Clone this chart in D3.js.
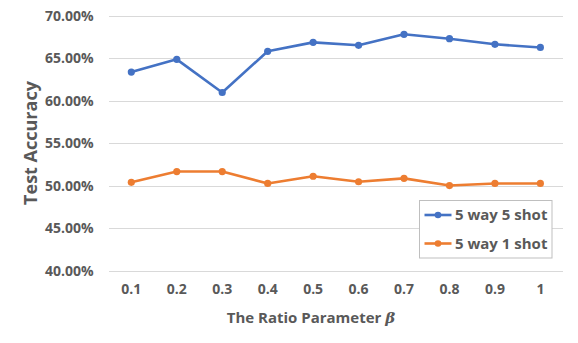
<!DOCTYPE html>
<html><head><meta charset="utf-8">
<script src="https://cdn.jsdelivr.net/npm/d3@7"></script>
<style>body{margin:0;background:#fff}svg text{font-family:"Open Sans","Noto Sans",sans-serif;font-weight:700;fill:#595959}</style>
</head><body><svg id="c" width="578" height="343"></svg>
<script>
const categories = ["0.1","0.2","0.3","0.4","0.5","0.6","0.7","0.8","0.9","1"];
const series5shot = [63.4,64.9,61.0,65.85,66.9,66.55,67.85,67.33,66.67,66.3];
const series1shot = [50.43,51.7,51.7,50.3,51.15,50.5,50.9,50.05,50.3,50.3];
const yTicks = [40,45,50,55,60,65,70];
const seriesNames = ["5 way 5 shot","5 way 1 shot"];
const colors = ["#4472C4","#ED7D31"];

const svg = d3.select("#c");
const x = d3.scaleBand().domain(categories).range([108.6,563.1]);
const y = d3.scaleLinear().domain([40,70]).range([271,16]);

// gridlines
svg.append("g").selectAll("line").data(yTicks).join("line")
  .attr("x1",108.6).attr("x2",563.1)
  .attr("y1",d=>y(d)).attr("y2",d=>y(d))
  .attr("stroke","#d9d9d9").attr("stroke-width",1).attr("shape-rendering","crispEdges");

// y axis labels
const yAxis = d3.axisLeft(y).tickValues(yTicks).tickSize(0).tickPadding(0).tickFormat(d=>d.toFixed(2)+"%");
const ya = svg.append("g").attr("transform","translate(93.5,0)").call(yAxis);
ya.select(".domain").remove();
ya.selectAll("text").attr("font-size",14).attr("font-family",null);

// x axis labels
const xAxis = d3.axisBottom(x).tickSize(0).tickPadding(0);
const xa = svg.append("g").attr("transform","translate(0,284)").call(xAxis);
xa.select(".domain").remove();
xa.selectAll("text").attr("font-size",14).attr("font-family",null);

// axis titles
const xt = svg.append("text").attr("x",311).attr("y",322.5).attr("text-anchor","middle").attr("font-size",15);
xt.append("tspan").text("The Ratio Parameter ");
xt.append("tspan").attr("font-style","italic").attr("font-family","DejaVu Serif").text("β");

svg.append("text").attr("transform","translate(36.5,143) rotate(-90)").attr("text-anchor","middle")
  .attr("font-size",18).text("Test Accuracy");

// lines
const line = d3.line().x((d,i)=>x(categories[i])+x.bandwidth()/2).y(d=>y(d));
[series5shot,series1shot].forEach((s,k)=>{
  svg.append("path").datum(s).attr("d",line).attr("fill","none")
    .attr("stroke",colors[k]).attr("stroke-width",2.6).attr("stroke-linejoin","round").attr("stroke-linecap","round");
  svg.append("g").selectAll("circle").data(s).join("circle")
    .attr("cx",(d,i)=>x(categories[i])+x.bandwidth()/2).attr("cy",d=>y(d))
    .attr("r",3.6).attr("fill",colors[k]);
});

// legend
const lg = svg.append("g");
lg.append("rect").attr("x",419.5).attr("y",200.5).attr("width",132.5).attr("height",57.5)
  .attr("fill","#fff").attr("stroke","#bfbfbf").attr("stroke-width",1);
seriesNames.forEach((n,k)=>{
  const yy = 215 + k*28.5;
  lg.append("line").attr("x1",424.5).attr("x2",451.5).attr("y1",yy).attr("y2",yy)
    .attr("stroke",colors[k]).attr("stroke-width",2.6);
  lg.append("circle").attr("cx",438).attr("cy",yy).attr("r",3.3).attr("fill",colors[k]);
  lg.append("text").attr("x",455).attr("y",yy).attr("dy","0.35em").attr("font-size",15).text(n);
});
</script></body></html>
